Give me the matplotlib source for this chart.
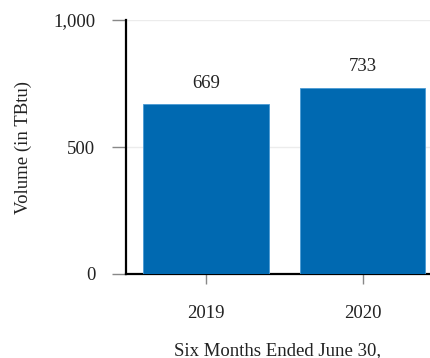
import matplotlib
matplotlib.use('Agg')
import matplotlib.pyplot as plt

plt.rcParams['font.family'] = ['Liberation Serif', 'DejaVu Serif']

years = ['2019', '2020']
volumes = [669, 733]
yticks = [0, 500, 1000]
ytick_labels = ['0', '500', '1,000']

fig = plt.figure(figsize=(4.3, 3.58), dpi=100)
ax = fig.add_axes([126 / 430, 1 - 274 / 358, (430 - 126) / 430, 254 / 358])

fs = 13.5
x = range(len(years))
bars = ax.bar(x, volumes, width=0.8, color='#0069b1', edgecolor='#4a9ad4', linewidth=0.6, zorder=3)
for xi, v in zip(x, volumes):
    ax.annotate(f'{v}', (xi, v), xytext=(0, 9), textcoords='offset points',
                ha='center', va='bottom', fontsize=fs, color='#222222')

ax.set_xlim(-0.51, 1.43)
ax.set_ylim(0, 1000)
ax.set_xticks(list(x))
ax.set_xticklabels(years, fontsize=fs, color='#222222')
ax.set_yticks(yticks)
ax.set_yticklabels(ytick_labels, fontsize=fs, color='#222222')
ax.yaxis.grid(True, color='#ececec', linewidth=1, zorder=0)
ax.tick_params(axis='y', length=10, width=1, color='#888888', pad=12)
ax.tick_params(axis='x', length=7, width=1, color='#888888', pad=15)

for s in ['top', 'right']:
    ax.spines[s].set_visible(False)
for s in ['left', 'bottom']:
    ax.spines[s].set_linewidth(1.6)
    ax.spines[s].set_color('black')

ax.set_xlabel('Six Months Ended June 30,', fontsize=fs, color='#222222', labelpad=15)
ax.set_ylabel('Volume (in TBtu)', fontsize=fs, color='#222222', labelpad=15)

fig.savefig('out.png', dpi=100)
